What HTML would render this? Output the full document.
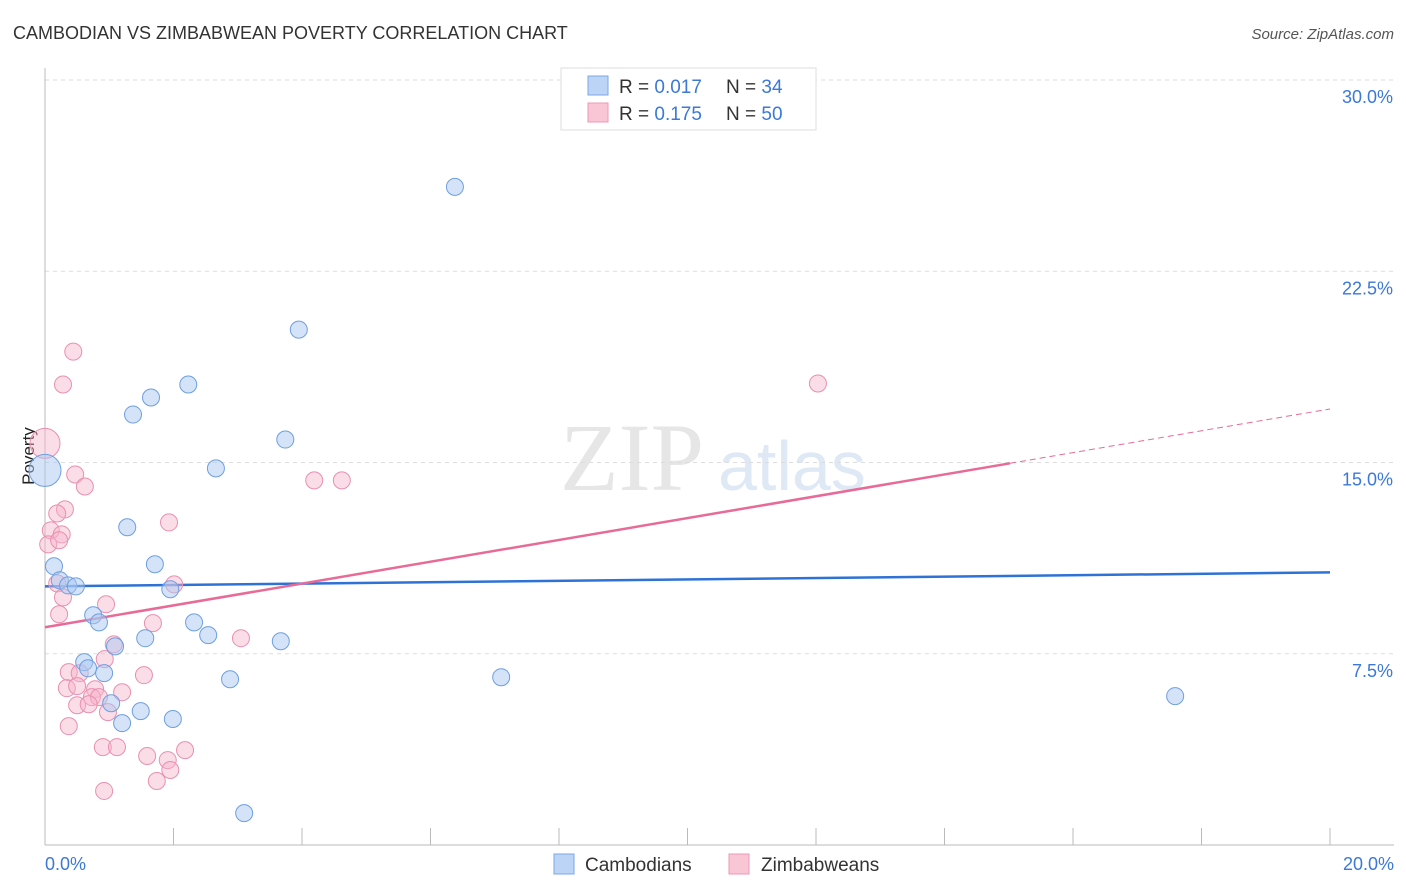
<!DOCTYPE html>
<html><head><meta charset="utf-8">
<style>
body{margin:0;background:#fff;font-family:"Liberation Sans",sans-serif;}
svg{display:block}
</style></head>
<body>
<svg id="chart" width="1406" height="892">
<text x="13" y="39" font-size="18" fill="#333">CAMBODIAN VS ZIMBABWEAN POVERTY CORRELATION CHART</text>
<text x="1394" y="39" font-size="15" fill="#555" font-style="italic" text-anchor="end">Source: ZipAtlas.com</text>
<text x="34" y="456" font-size="17" fill="#222" transform="rotate(-90 34 456)" text-anchor="middle">Poverty</text>
<text x="560" y="490" font-size="96" fill="#e6e6e6" font-family="Liberation Serif,serif">ZIP</text>
<text x="718" y="490" font-size="70" fill="#dfe8f5">atlas</text>
<g id="grid"></g>
<g id="axes"></g>
<g id="trends"></g>
<g id="points"></g>
<g>
<rect x="561" y="68" width="255" height="62" fill="#fff" stroke="#ddd"/>
<rect x="588" y="76" width="20" height="19" fill="#bcd4f6" stroke="#7aa8e6"/>
<rect x="588" y="103" width="20" height="19" fill="#f9c6d6" stroke="#ec98b4"/>
<text x="619" y="93" font-size="19" fill="#333">R = <tspan fill="#3b78d8">0.017</tspan></text>
<text x="726" y="93" font-size="19" fill="#333">N = <tspan fill="#3b78d8">34</tspan></text>
<text x="619" y="120" font-size="19" fill="#333">R = <tspan fill="#3b78d8">0.175</tspan></text>
<text x="726" y="120" font-size="19" fill="#333">N = <tspan fill="#3b78d8">50</tspan></text>
</g>
<g>
<rect x="554" y="854" width="20" height="20" fill="#bcd4f6" stroke="#7aa8e6"/>
<text x="585" y="871" font-size="19" fill="#333">Cambodians</text>
<rect x="729" y="854" width="20" height="20" fill="#f9c6d6" stroke="#ec98b4"/>
<text x="761" y="871" font-size="19" fill="#333">Zimbabweans</text>
</g>
</svg>
<script>
const yTicks=[7.5,15,22.5,30];
const yTickLabels=["7.5%","15.0%","22.5%","30.0%"];
const xTickLabels=["0.0%","20.0%"];
const camX=[6.38,3.95,2.23,1.65,1.37,3.74,2.66,0.0,1.28,0.14,1.71,0.23,0.36,0.48,1.95,0.75,0.84,2.32,2.54,1.56,1.09,3.67,0.61,0.67,0.92,2.88,7.10,1.03,1.49,1.99,1.20,17.59,3.10];
const camY=[25.81,20.21,18.06,17.55,16.88,15.90,14.77,14.69,12.46,10.93,11.01,10.38,10.18,10.14,10.03,9.01,8.73,8.73,8.23,8.11,7.79,7.99,7.17,6.93,6.74,6.50,6.58,5.56,5.25,4.94,4.78,5.84,1.25];
const zimX=[0.44,0.28,12.03,0,0.47,4.19,4.62,0.62,0.31,0.19,1.93,0.09,0.26,0.05,0.22,2.01,0.19,0.28,0.95,0.22,1.68,3.05,1.07,0.93,0.37,0.54,1.54,0.34,0.50,0.78,1.20,0.73,0.84,0.50,0.68,0.98,0.37,0.90,1.12,1.59,2.18,1.91,1.95,1.74,0.92];
const zimY=[19.35,18.06,18.10,15.75,14.53,14.30,14.30,14.06,13.16,13.00,12.65,12.34,12.18,11.79,11.95,10.22,10.26,9.71,9.44,9.05,8.70,8.11,7.87,7.29,6.78,6.74,6.66,6.15,6.23,6.11,5.99,5.80,5.80,5.48,5.52,5.21,4.66,3.84,3.84,3.49,3.72,3.33,2.94,2.51,2.12];
const camTrend=[10.14,10.69];
const zimTrend=[8.54,17.1];
const zimSolidEnd=15.02;

const NS="http://www.w3.org/2000/svg";
const sx=v=>45+v/20*1285;
const sy=v=>845-v/30*(845-80);
function mk(tag,attrs,parent){const e=document.createElementNS(NS,tag);for(const k in attrs)e.setAttribute(k,attrs[k]);document.getElementById(parent).appendChild(e);return e;}
yTicks.forEach((t,i)=>{
  const l=mk('line',{x1:45,x2:1394,y1:sy(t),y2:sy(t),stroke:'#ddd','stroke-dasharray':'4 4'},'grid');
  
  
  const tx=mk('text',{x:1393,y:sy(t)+23,'font-size':18,fill:'#3b78d8','text-anchor':'end'},'axes');
  tx.textContent=yTickLabels[i];
  
  
});
const ya=mk('line',{x1:45,x2:45,y1:68,y2:845,stroke:'#bbb'},'axes');


const xa=mk('line',{x1:45,x2:1394,y1:845,y2:845,stroke:'#bbb'},'axes');


for(let i=0;i<=10;i++){
  const t=mk('line',{x1:sx(i*2),x2:sx(i*2),y1:828,y2:845,stroke:'#bbb'},'axes');
  
  
}
[[0,'start',45],[20,'end',1394]].forEach((d,i)=>{
  const tx=mk('text',{x:d[2],y:870,'font-size':18,fill:'#3b78d8','text-anchor':d[1]},'axes');
  tx.textContent=xTickLabels[i];
  
  
});
// points
zimX.forEach((x,i)=>{
  const c=mk('circle',{cx:sx(x),cy:sy(zimY[i]),r:(x===0&&i===3)?15:8.5,fill:'#f6b4ca','fill-opacity':0.45,stroke:'#e890b0','stroke-width':1},'points');
  
  
});
camX.forEach((x,i)=>{
  const c=mk('circle',{cx:sx(x),cy:sy(camY[i]),r:(i===7)?16:8.5,fill:'#a9c8f2','fill-opacity':0.5,stroke:'#6e9fe0','stroke-width':1},'points');
  
  
});
// trends
const zy=x=>zimTrend[0]+(zimTrend[1]-zimTrend[0])*x/20;
const t1=mk('line',{x1:sx(0),y1:sy(camTrend[0]),x2:sx(20),y2:sy(camTrend[1]),stroke:'#2f72d6','stroke-width':2.5},'trends');


const t2=mk('line',{x1:sx(0),y1:sy(zy(0)),x2:sx(zimSolidEnd),y2:sy(zy(zimSolidEnd)),stroke:'#e86a96','stroke-width':2.5},'trends');


const t3=mk('line',{x1:sx(zimSolidEnd),y1:sy(zy(zimSolidEnd)),x2:sx(20),y2:sy(zy(20)),stroke:'#e86a96','stroke-width':1,'stroke-dasharray':'6 4'},'trends');


</script>
</body></html>
